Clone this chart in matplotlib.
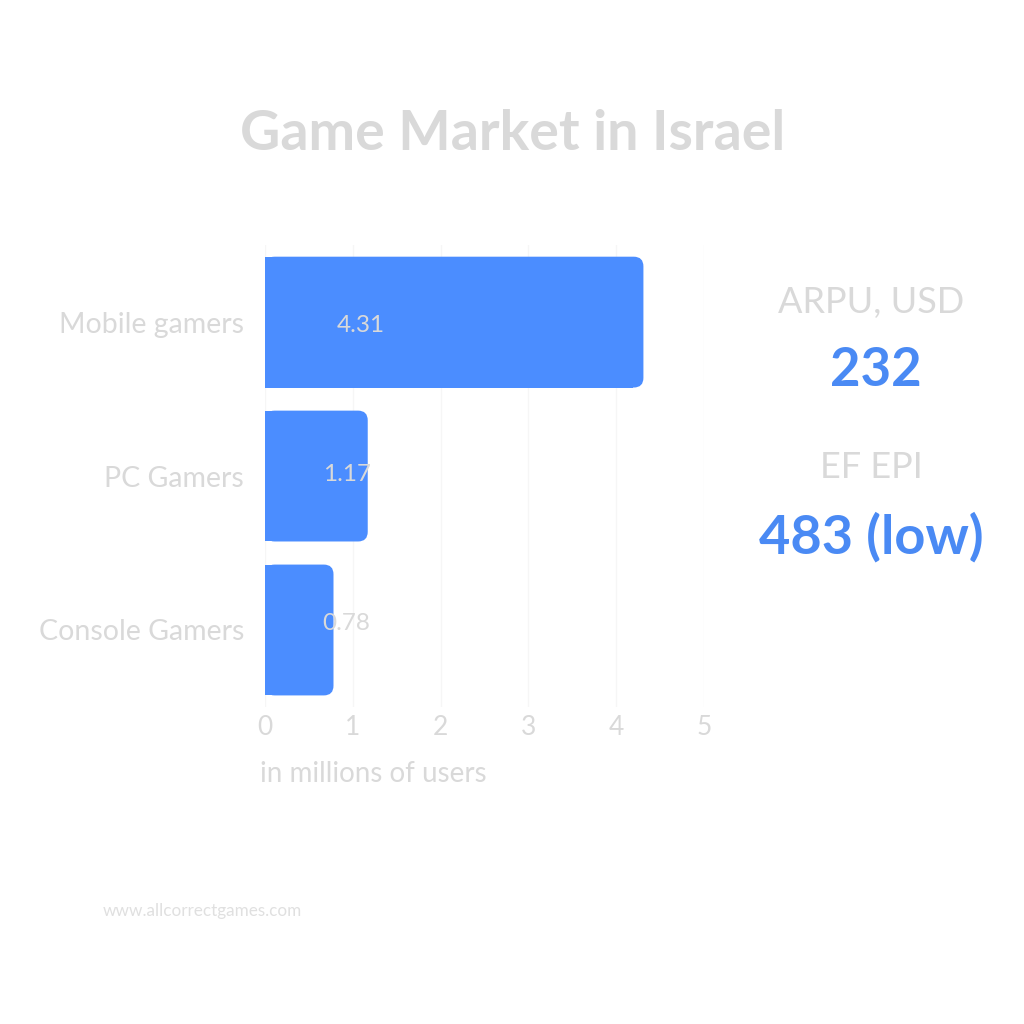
import matplotlib.pyplot as plt
from matplotlib.patches import FancyBboxPatch, Rectangle

plt.rcParams['font.family'] = ['Lato', 'DejaVu Sans']

categories = ['Mobile gamers', 'PC Gamers', 'Console Gamers']
users = [4.31, 1.17, 0.78]
value_labels = ['4.31', '1.17', '0.78']
x_ticks = [0, 1, 2, 3, 4, 5]

kpi_titles = ['ARPU, USD', 'EF EPI']
kpi_values = ['232', '483 (low)']

bar_color = '#4b8dff'
gray = '#d9d9d9'
blue_text = '#4a8af4'

fig = plt.figure(figsize=(10.24, 10.24), dpi=100)
ax = fig.add_axes([0.2588, 0.3096, 0.4287, 0.451])
ax.set_xlim(0, 5)
ax.set_ylim(2.5, -0.5)

bar_h = 0.85
# rounded right corners: fancy box + square rectangle over the left part
aspect = (1 / 154) / (1 / 88)
for i, v in enumerate(users):
    y0 = i - bar_h / 2
    ax.add_patch(FancyBboxPatch((0, y0), v, bar_h,
                                boxstyle='round,pad=0,rounding_size=0.11',
                                mutation_aspect=aspect,
                                fc=bar_color, ec='none', zorder=2))
    ax.add_patch(Rectangle((0, y0), v - 0.12, bar_h, fc=bar_color, ec='none',
                           zorder=2, antialiased=False))

label_x = [1.09, 0.93, 0.92]
label_dy = [0.02, -0.01, -0.04]
for i, t in enumerate(value_labels):
    ax.text(label_x[i], i + label_dy[i], t, ha='center', va='center',
            fontsize=17.5, color=gray, zorder=3)

ax.set_yticks(range(len(categories)))
ax.set_yticklabels(categories, fontsize=20.5, color=gray)
ax.set_xticks(x_ticks)
ax.set_xticklabels([str(t) for t in x_ticks], fontsize=19, color=gray)
ax.tick_params(length=0)
ax.tick_params(axis='y', pad=15)
ax.tick_params(axis='x', pad=6)
ax.grid(axis='x', color='#f6f6f6', lw=1, zorder=0)
ax.set_axisbelow(True)
for s in ax.spines.values():
    s.set_visible(False)

fig.text(260 / 1024, 1 - 774 / 1024, 'in millions of users', fontsize=20,
         color=gray, ha='left', va='center')

fig.text(513 / 1024, 1 - 134 / 1024, 'Game Market in Israel', fontsize=40,
         fontweight='bold', color=gray, ha='center', va='center')

fig.text(871 / 1024, 1 - 302 / 1024, kpi_titles[0], fontsize=26, color=gray,
         ha='center', va='center')
fig.text(876 / 1024, 1 - 371 / 1024, kpi_values[0], fontsize=38, fontweight='bold',
         color=blue_text, ha='center', va='center')
fig.text(871 / 1024, 1 - 468 / 1024, kpi_titles[1], fontsize=26, color=gray,
         ha='center', va='center')
fig.text(871 / 1024, 1 - 537 / 1024, kpi_values[1], fontsize=39, fontweight='bold',
         color=blue_text, ha='center', va='center')

fig.text(103 / 1024, 1 - 911 / 1024, 'www.allcorrectgames.com', fontsize=12.3,
         color='#e0e0e0', ha='left', va='center')

fig.savefig('out.png', dpi=100, facecolor='white')
